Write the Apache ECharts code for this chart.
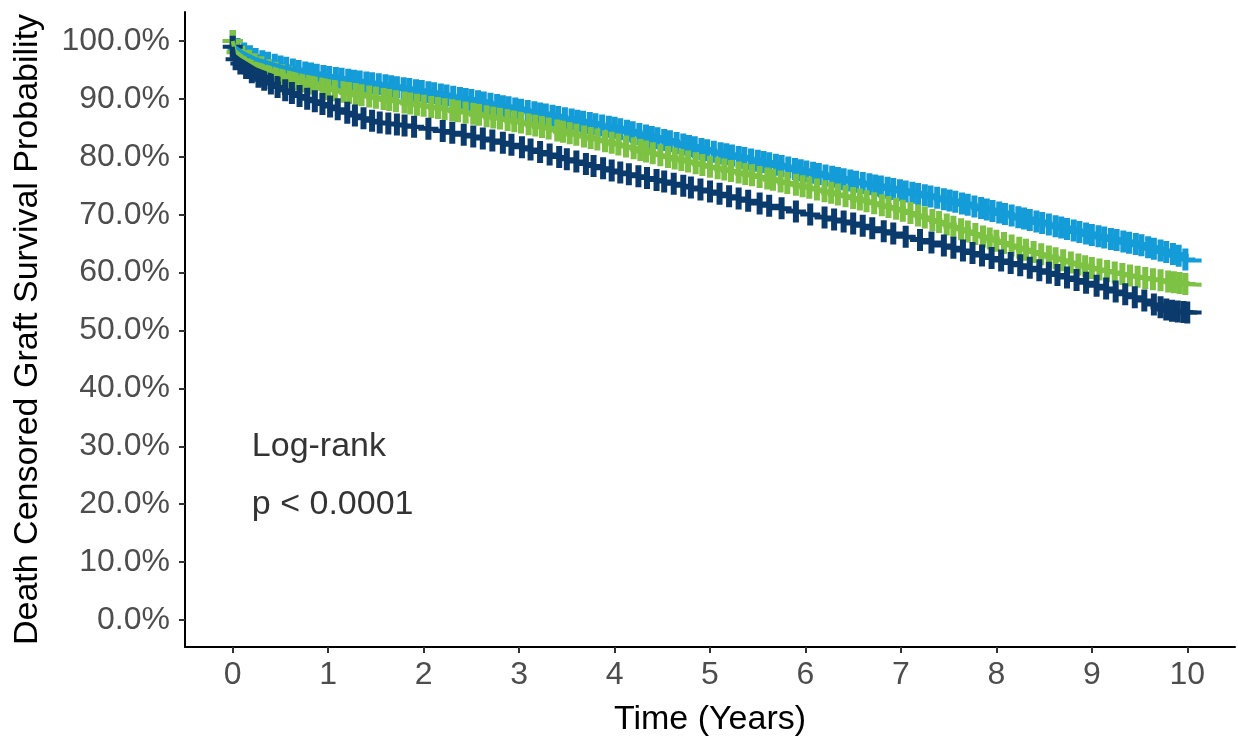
<!DOCTYPE html>
<html>
<head>
<meta charset="utf-8">
<script src="https://cdn.jsdelivr.net/npm/echarts@6/dist/echarts.min.js"></script>
<style>
  html, body { margin: 0; padding: 0; background: #fff; }
  #chart { width: 1238px; height: 738px; }
</style>
</head>
<body>
<div id="chart"></div>
<script>
// tick values
var xTicks = [0, 1, 2, 3, 4, 5, 6, 7, 8, 9, 10];
var yTicks = [0, 10, 20, 30, 40, 50, 60, 70, 80, 90, 100];

// survival curves (time in years, survival in %)
var blueTime = [0, 0.02, 0.1, 0.25, 0.5, 0.75, 1, 1.5, 2, 2.5, 3, 3.5, 4, 4.5, 5, 5.5, 6, 6.5, 7, 7.5, 8, 8.5, 9, 9.5, 9.9, 10, 10.15];
var blueSurv = [100, 99.0, 98.0, 96.8, 95.6, 94.6, 93.8, 92.6, 91.3, 89.8, 88.2, 86.6, 85.0, 83.0, 81.0, 79.3, 77.5, 75.8, 74.2, 72.5, 70.5, 68.5, 66.5, 64.8, 63.0, 62.1, 62.1];

var greenTime = [0, 0.02, 0.1, 0.25, 0.5, 0.75, 1, 1.5, 2, 2.5, 3, 3.5, 4, 4.5, 5, 5.5, 6, 6.5, 7, 7.5, 8, 8.5, 9, 9.5, 10, 10.15];
var greenSurv = [100, 98.3, 97.3, 95.8, 94.2, 92.9, 91.7, 90.2, 88.8, 87.5, 86.0, 84.2, 82.3, 80.2, 78.3, 76.6, 74.8, 72.9, 70.8, 68.2, 65.5, 63.0, 60.8, 59.2, 58.0, 57.9];

var darkTime = [0, 0.02, 0.1, 0.25, 0.5, 0.75, 1, 1.25, 1.5, 2, 2.5, 3, 3.5, 4, 4.5, 5, 5.5, 6, 6.5, 7, 7.5, 8, 8.5, 9, 9.5, 9.8, 10, 10.15];
var darkSurv = [99, 97.0, 95.8, 94.0, 91.8, 90.2, 88.8, 87.3, 86.0, 85.0, 83.6, 81.8, 79.6, 77.5, 75.8, 74.0, 72.0, 70.2, 68.5, 66.4, 64.5, 62.3, 60.2, 58.0, 55.5, 53.5, 53.1, 53.1];

// censoring times
var blueCensor = [0, 0.05, 0.12, 0.18, 0.24, 0.31, 0.37, 0.44, 0.5, 0.56, 0.63, 0.69, 0.76, 0.82, 0.88, 0.95,
  1.01, 1.08, 1.14, 1.21, 1.27, 1.33, 1.4, 1.46, 1.53, 1.6, 1.66, 1.72, 1.79, 1.85, 1.92, 1.98,
  2.05, 2.11, 2.18, 2.24, 2.31, 2.38, 2.44, 2.5, 2.57, 2.63, 2.7, 2.77, 2.83, 2.89, 2.96,
  3.02, 3.09, 3.16, 3.22, 3.28, 3.35, 3.41, 3.48, 3.55, 3.61, 3.67, 3.74, 3.8, 3.87, 3.94,
  4.0, 4.06, 4.13, 4.19, 4.26, 4.33, 4.39, 4.45, 4.52, 4.58, 4.65, 4.72, 4.78, 4.84, 4.91, 4.97,
  5.04, 5.11, 5.17, 5.23, 5.3, 5.36, 5.43, 5.5, 5.56, 5.62, 5.69, 5.75, 5.82, 5.89, 5.95,
  6.01, 6.08, 6.14, 6.21, 6.28, 6.34, 6.4, 6.47, 6.53, 6.6, 6.67, 6.73, 6.79, 6.86, 6.92, 6.99,
  7.05, 7.12, 7.18, 7.25, 7.31, 7.38, 7.45, 7.51, 7.57, 7.64, 7.7, 7.77, 7.84, 7.9, 7.96,
  8.03, 8.09, 8.16, 8.23, 8.29, 8.35, 8.42, 8.48, 8.55, 8.62, 8.68, 8.74, 8.81, 8.87, 8.94,
  9.0, 9.07, 9.13, 9.2, 9.26, 9.33, 9.39, 9.46, 9.52, 9.59, 9.65, 9.72, 9.78, 9.85, 9.91, 9.98];

var greenCensor = [0, 0.04, 0.1, 0.17, 0.23, 0.3, 0.38, 0.45, 0.52, 0.6, 0.66, 0.73, 0.8, 0.86, 0.94,
  1.0, 1.07, 1.16, 1.22, 1.29, 1.35, 1.43, 1.5, 1.58, 1.64, 1.71, 1.8, 1.86, 1.93,
  2.0, 2.08, 2.15, 2.22, 2.3, 2.36, 2.44, 2.52, 2.58, 2.66, 2.73, 2.8, 2.88, 2.95,
  3.02, 3.1, 3.17, 3.24, 3.31, 3.4, 3.46, 3.53, 3.6, 3.68, 3.75, 3.82, 3.9, 3.97,
  4.04, 4.12, 4.2, 4.27, 4.33, 4.4, 4.48, 4.56, 4.63, 4.7, 4.77, 4.85, 4.92,
  5.0, 5.08, 5.15, 5.22, 5.3, 5.37, 5.44, 5.52, 5.6, 5.66, 5.74, 5.81, 5.9, 5.97,
  6.04, 6.12, 6.2, 6.27, 6.34, 6.42, 6.5, 6.57, 6.64, 6.72, 6.8, 6.87, 6.95,
  7.02, 7.1, 7.18, 7.25, 7.33, 7.4, 7.48, 7.55, 7.63, 7.7, 7.78, 7.86, 7.93,
  8.0, 8.08, 8.16, 8.24, 8.31, 8.39, 8.47, 8.55, 8.62, 8.7, 8.78, 8.86, 8.93,
  9.0, 9.08, 9.16, 9.24, 9.32, 9.4, 9.48, 9.56, 9.64, 9.72, 9.8, 9.86, 9.92, 9.98];

var darkCensor = [0, 0.03, 0.08, 0.14, 0.2, 0.27, 0.33, 0.4, 0.47, 0.55, 0.62, 0.7, 0.78, 0.86, 0.94,
  1.02, 1.1, 1.2, 1.28, 1.37, 1.46, 1.54, 1.63, 1.72, 1.8, 1.9,
  2.05, 2.2, 2.3, 2.42, 2.52, 2.62, 2.72, 2.83, 2.92,
  3.03, 3.12, 3.22, 3.32, 3.42, 3.5, 3.6, 3.7, 3.78, 3.88, 3.97,
  4.06, 4.15, 4.25, 4.34, 4.44, 4.52, 4.62, 4.72, 4.8, 4.9,
  5.0, 5.1, 5.2, 5.3, 5.4, 5.52, 5.62, 5.75, 5.9,
  6.05, 6.2, 6.3, 6.4, 6.5, 6.6, 6.7, 6.82, 6.92,
  7.05, 7.2, 7.32, 7.45, 7.55, 7.65, 7.75, 7.85, 7.95,
  8.05, 8.15, 8.25, 8.35, 8.45, 8.55, 8.64, 8.74, 8.84, 8.94,
  9.05, 9.15, 9.25, 9.35, 9.45, 9.55, 9.65, 9.72, 9.78, 9.84, 9.9, 9.96, 10.0];

var notes = ['Log-rank', 'p < 0.0001'];

var blue = '#139cd8';
var green = '#7dc242';
var dark = '#0b3b6c';
var font = 'Liberation Sans, Arial, sans-serif';
// "+" censor mark
var plus = 'path://M7,0 H13 V9 H20 V13 H13 V22 H7 V13 H0 V9 H7 Z';

function pairs(ts, vs) {
  return ts.map(function (t, i) { return [t, vs[i]]; });
}

// put a censor mark on its curve
function onCurve(ts, vs, t) {
  for (var i = 1; i < ts.length; i++) {
    if (t <= ts[i]) {
      var f = (t - ts[i - 1]) / (ts[i] - ts[i - 1]);
      return vs[i - 1] + f * (vs[i] - vs[i - 1]);
    }
  }
  return vs[vs.length - 1];
}

function curveSeries(name, ts, vs, color) {
  return {
    name: name,
    type: 'line',
    data: pairs(ts, vs),
    showSymbol: false,
    symbol: 'none',
    lineStyle: { color: color, width: 4, cap: 'butt' },
    silent: true
  };
}

function censorSeries(name, ts, vs, cs, color) {
  return {
    name: name + ' censor',
    type: 'scatter',
    data: cs.map(function (t) { return [t, onCurve(ts, vs, t)]; }),
    symbol: plus,
    symbolSize: [20, 22],
    itemStyle: { color: color, opacity: 1 },
    silent: true
  };
}

var chart = echarts.init(document.getElementById('chart'), null, { renderer: 'canvas' });

var option = {
  animation: false,
  backgroundColor: '#fff',
  grid: { left: 185, right: 3, top: 12, bottom: 91, containLabel: false, outerBoundsMode: 'none' },
  xAxis: {
    type: 'value',
    min: -0.5,
    max: 10.5,
    splitLine: { show: false },
    axisLine: { onZero: false, lineStyle: { color: '#000', width: 2 } },
    axisTick: { customValues: xTicks, length: 6, lineStyle: { color: '#333', width: 2 } },
    axisLabel: { customValues: xTicks, color: '#4d4d4d', fontSize: 32, fontFamily: font, margin: 12 },
    name: 'Time (Years)',
    nameLocation: 'middle',
    nameGap: 56,
    nameTextStyle: { color: '#000', fontSize: 34, fontFamily: font }
  },
  yAxis: {
    type: 'value',
    min: -4.66,
    max: 105.01,
    splitLine: { show: false },
    axisLine: { show: true, onZero: false, lineStyle: { color: '#000', width: 2 } },
    axisTick: { show: true, customValues: yTicks, length: 6, lineStyle: { color: '#333', width: 2 } },
    axisLabel: {
      customValues: yTicks, color: '#4d4d4d', fontSize: 32, fontFamily: font, margin: 15,
      formatter: function (v) { return v.toFixed(1) + '%'; }
    },
    name: 'Death Censored Graft Survival Probability',
    nameLocation: 'middle',
    nameGap: 140,
    nameTextStyle: { color: '#000', fontSize: 34, fontFamily: font }
  },
  series: [
    curveSeries('blue', blueTime, blueSurv, blue),
    censorSeries('blue', blueTime, blueSurv, blueCensor, blue),
    curveSeries('green', greenTime, greenSurv, green),
    censorSeries('green', greenTime, greenSurv, greenCensor, green),
    curveSeries('dark', darkTime, darkSurv, dark),
    censorSeries('dark', darkTime, darkSurv, darkCensor, dark),
    {
      type: 'scatter',
      symbolSize: 0,
      silent: true,
      data: [
        { value: [0.2, 30], name: notes[0] },
        { value: [0.2, 20], name: notes[1] }
      ],
      label: {
        show: true, position: 'right', distance: 0, formatter: '{b}',
        color: '#000', fontSize: 34, fontFamily: font
      }
    }
  ]
};

chart.setOption(option);
</script>
</body>
</html>
